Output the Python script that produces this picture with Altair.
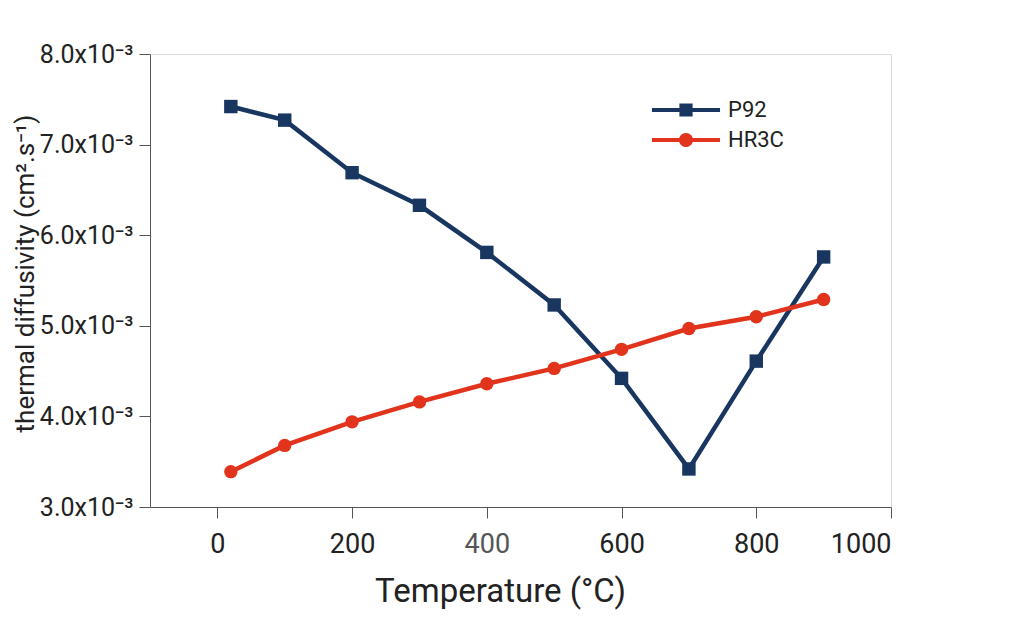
import altair as alt
import pandas as pd

temps = [20, 100, 200, 300, 400, 500, 600, 700, 800, 900]
p92 = [7.42, 7.27, 6.69, 6.33, 5.81, 5.23, 4.42, 3.42, 4.61, 5.76]
hr3c = [3.39, 3.68, 3.94, 4.16, 4.36, 4.53, 4.74, 4.97, 5.10, 5.29]
series = ["P92", "HR3C"]
colors = ["#183660", "#e2341d"]
x_ticks = [0, 200, 400, 600, 800, 1000]
y_ticks = [0.003, 0.004, 0.005, 0.006, 0.007, 0.008]

rows = []
for t, a, b in zip(temps, p92, hr3c):
    rows.append({"T": t, "D": a * 1e-3, "Series": "P92"})
    rows.append({"T": t, "D": b * 1e-3, "Series": "HR3C"})
df = pd.DataFrame(rows)

FONT = "Roboto"
TXT = "#222222"
FRAME = "#555555"

# legend glyphs: line segment with marker (unit = 15px)
sq_path = "M-2.27,-0.14H2.27V0.14H-2.27Z M-0.44,-0.44H0.44V0.44H-0.44Z"
ci_path = "M-2.27,-0.14H2.27V0.14H-2.27Z M0.47,0A0.47,0.47 0 1 1 -0.47,0A0.47,0.47 0 1 1 0.47,0Z"


def make_legend():
    return alt.Legend(
        title=None,
        orient="none",
        legendX=521,
        legendY=41,
        labelFontSize=22,
        labelColor=TXT,
        labelFont=FONT,
        symbolSize=900,
        symbolStrokeWidth=0,
        symbolOpacity=1,
        rowPadding=4,
        labelOffset=27,
    )


x_enc = alt.X(
    "T:Q",
    scale=alt.Scale(domain=[-100, 1000], nice=False, zero=False),
    axis=alt.Axis(
        values=x_ticks,
        format="d",
        title="Temperature (°C)",
        titleFontSize=33,
        titleFontWeight="normal",
        titleColor=TXT,
        titleFont=FONT,
        titleX=350,
        titleY=94,
        titleBaseline="alphabetic",
        labelFontSize=27,
        labelFont=FONT,
        labelColor={"expr": "datum.value == 400 ? '#555555' : '#222222'"},
        labelBaseline="alphabetic",
        labelPadding=34,
        tickSize=11,
        tickColor=FRAME,
        domainColor=FRAME,
        grid=False,
    ),
)
y_enc = alt.Y(
    "D:Q",
    scale=alt.Scale(domain=[0.003, 0.008], nice=False, zero=False),
    axis=alt.Axis(
        values=y_ticks,
        labelExpr="format(datum.value * 1000, '.1f') + 'x10⁻³'",
        title="thermal diffusivity (cm².s⁻¹)",
        titleFontSize=26,
        titleFontWeight="normal",
        titleColor=TXT,
        titleFont=FONT,
        titleX=-117,
        titleY=219,
        titleAngle=270,
        titleAlign="center",
        titleBaseline="alphabetic",
        labelFontSize=25,
        labelFont=FONT,
        labelColor=TXT,
        labelPadding=6,
        tickSize=11,
        tickColor=FRAME,
        domainColor=FRAME,
        grid=False,
    ),
)
color_scale = alt.Scale(domain=series, range=colors)

base = alt.Chart(df).encode(x=x_enc, y=y_enc)

lines = base.mark_line(strokeWidth=4.5).encode(
    color=alt.Color("Series:N", scale=color_scale, legend=make_legend())
)
points = base.mark_point(filled=True, opacity=1, size=180).encode(
    color=alt.Color("Series:N", scale=color_scale, legend=make_legend()),
    shape=alt.condition(alt.datum.Series == "P92", alt.value("square"), alt.value("circle")),
)
legend_src = (
    base.mark_point(filled=True, opacity=1, strokeWidth=0)
    .encode(
        color=alt.Color("Series:N", scale=color_scale, legend=make_legend()),
        shape=alt.Shape("Series:N", scale=alt.Scale(domain=series, range=[sq_path, ci_path]), legend=make_legend()),
    )
    .transform_filter("false")
)

chart = (
    alt.layer(lines, points, legend_src)
    .properties(
        width=741,
        height=453,
        autosize=alt.AutoSizeParams(type="none"),
        padding={"left": 142, "top": 46, "right": 120, "bottom": 120},
    )
    .configure_view(stroke=FRAME, strokeWidth=1.3)
    .configure(font=FONT)
)

chart.save("out.html", embed_options={"renderer": "svg", "actions": False})
